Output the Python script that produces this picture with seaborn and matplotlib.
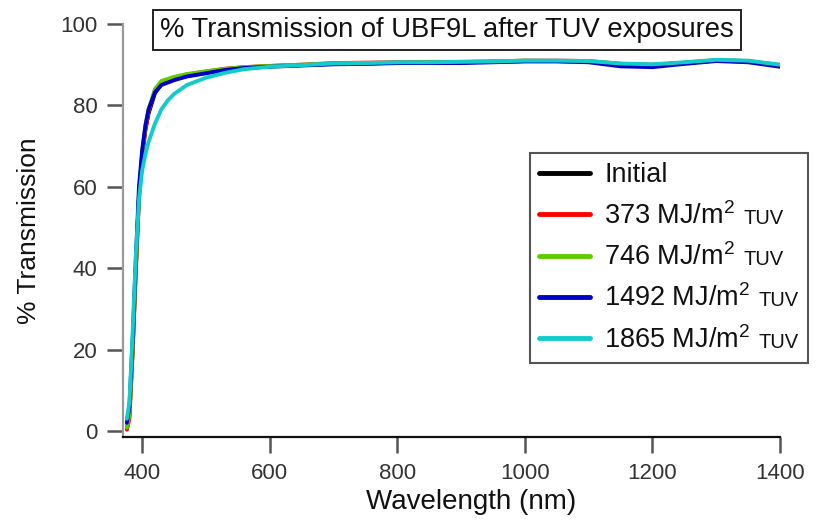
import numpy as np
import pandas as pd
import matplotlib
matplotlib.use("Agg")
import matplotlib.pyplot as plt
from matplotlib.offsetbox import HPacker, TextArea
import seaborn as sns

# ---- data ----
wavelength = [376, 380, 385, 390, 395, 400, 405, 410, 420, 430, 440, 450, 470, 500,
              530, 560, 600, 650, 700, 750, 800, 850, 900, 950, 1000, 1050, 1100,
              1150, 1200, 1250, 1300, 1350, 1400]

initial = [0.5, 4, 20, 40, 58, 68, 74, 78, 83, 85.3, 85.8, 86.4, 87.2, 88.0,
           88.8, 89.3, 89.6, 89.9, 90.2, 90.3, 90.5, 90.5, 90.6, 90.7, 90.9, 90.9, 90.8,
           90.0, 89.8, 90.4, 91.0, 90.8, 89.8]
uv373 = [0.3, 3, 19, 39, 57, 67.5, 74, 78.5, 83.5, 85.6, 86.2, 86.8, 87.6, 88.3,
         89.0, 89.4, 89.7, 90.0, 90.4, 90.5, 90.6, 90.7, 90.7, 90.8, 91.0, 91.0, 90.9,
         90.2, 90.0, 90.5, 91.1, 90.9, 89.9]
uv746 = [0.8, 4, 20, 40, 58, 68.5, 75, 79, 84, 86.0, 86.5, 87.0, 87.7, 88.4,
         89.0, 89.4, 89.7, 90.0, 90.3, 90.4, 90.5, 90.6, 90.6, 90.8, 91.0, 90.9, 90.9,
         90.2, 89.9, 90.5, 91.1, 90.9, 89.9]
uv1492 = [2, 6, 22, 42, 60, 69, 75, 79, 83.2, 85.0, 85.6, 86.2, 87.1, 87.9,
          88.7, 89.2, 89.5, 89.8, 90.1, 90.2, 90.4, 90.4, 90.4, 90.6, 90.8, 90.8, 90.6,
          89.6, 89.4, 90.2, 90.9, 90.6, 89.5]
uv1865 = [3, 7, 24, 43, 57, 64, 68, 71, 75.5, 79, 81.2, 82.8, 85.0, 86.8,
          88.0, 88.9, 89.5, 89.9, 90.3, 90.4, 90.6, 90.6, 90.7, 90.8, 91.0, 91.0, 90.9,
          90.3, 90.1, 90.6, 91.2, 91.0, 90.0]

labels_main = ["Initial", "373 MJ/m$^2$", "746 MJ/m$^2$", "1492 MJ/m$^2$", "1865 MJ/m$^2$"]
labels_suffix = ["", "TUV", "TUV", "TUV", "TUV"]
series = [initial, uv373, uv746, uv1492, uv1865]
colors = ["#000000", "#ff0000", "#5fcc00", "#0000c8", "#12cccc"]

title = "% Transmission of UBF9L after TUV exposures"
xlabel = "Wavelength (nm)"
ylabel = "% Transmission"
xticks = [400, 600, 800, 1000, 1200, 1400]
yticks = [0, 20, 40, 60, 80, 100]

# ---- style ----
sns.set_theme(style="white")
plt.rcParams["font.family"] = ["Liberation Sans", "DejaVu Sans"]
plt.rcParams["mathtext.fontset"] = "custom"
plt.rcParams["mathtext.rm"] = "Liberation Sans"
plt.rcParams["mathtext.it"] = "Liberation Sans"
plt.rcParams["mathtext.bf"] = "Liberation Sans:bold"

fig = plt.figure(figsize=(8.17, 5.2), dpi=100)
ax = fig.add_axes([0.1506, 0.1596, 0.8041, 0.7942])

for vals, lab, col in zip(series, labels_main, colors):
    df = pd.DataFrame({"wl": wavelength, "T": vals})
    sns.lineplot(data=df, x="wl", y="T", color=col, linewidth=2.8, ax=ax,
                 label=lab, legend=False)

ax.set_xlim(370, 1400)
ax.set_ylim(-1.5, 100)
ax.set_xticks(xticks)
ax.set_yticks(yticks)
ax.set_xticklabels([str(t) for t in xticks])
ax.set_yticklabels([str(t) for t in yticks])

for s in ["top", "right"]:
    ax.spines[s].set_visible(False)
ax.spines["left"].set_color("#9a9a9a")
ax.spines["left"].set_linewidth(1.6)
ax.spines["bottom"].set_color("#111111")
ax.spines["bottom"].set_linewidth(1.6)
ax.tick_params(axis="both", direction="out", length=11.5, width=1.8, bottom=True, left=True,
               colors="#555555", labelsize=16, labelcolor="#333333")
ax.tick_params(axis="y", pad=7)
ax.tick_params(axis="x", pad=7)

ax.set_xlabel(xlabel, fontsize=20, color="#111111")
ax.xaxis.set_label_coords(0.53, -0.125)
ax.set_ylabel(ylabel, fontsize=19, color="#111111", labelpad=14)

fig.text(0.547, 0.942, title, ha="center", va="center", fontsize=19.7, color="#111111",
         bbox=dict(boxstyle="square,pad=0.26", fc="white", ec="#222222", lw=1.4))

handles, labs = ax.get_legend_handles_labels()
leg = ax.legend(handles, labs, loc="upper right", bbox_to_anchor=(0.989, 0.706),
                bbox_transform=fig.transFigure, fontsize=19.5, frameon=True,
                fancybox=False, framealpha=1, edgecolor="#555555",
                handlelength=1.9, handletextpad=0.5, labelspacing=0.5,
                borderpad=0.35, borderaxespad=0)
leg.get_frame().set_linewidth(1.5)
for ln in leg.get_lines():
    ln.set_linewidth(3.5)
for t in leg.get_texts():
    t.set_color("#111111")

# append small "TUV" to the labels, baseline-aligned inside the legend
items = [it for col in leg._legend_handle_box.get_children() for it in col.get_children()]
for it, suf in zip(items, labels_suffix):
    if not suf:
        continue
    kids = it.get_children()
    ta = kids[1]
    extra = TextArea(suf, textprops=dict(fontsize=14.5, color="#111111"))
    pk = HPacker(children=[ta, extra], pad=0, sep=6, align="baseline")
    pk.set_figure(fig)
    kids[1] = pk

fig.savefig("out.png", dpi=100)
